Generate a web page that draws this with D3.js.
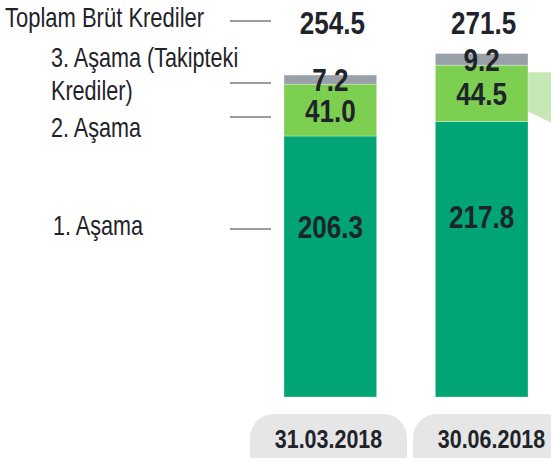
<!DOCTYPE html>
<html>
<head>
<meta charset="utf-8">
<script src="https://cdn.jsdelivr.net/npm/d3@7"></script>
<style>
  body { margin: 0; background: #fff; }
  svg { display: block; font-family: "Liberation Sans", Arial, sans-serif; }
</style>
</head>
<body>
<div class="chart"></div>
<script>
// veriler
const dates = ["31.03.2018", "30.06.2018"];
const stage1 = [206.3, 217.8];
const stage2 = [41.0, 44.5];
const stage3 = [7.2, 9.2];
const totals = [254.5, 271.5];

// etiketler (sol taraf)
const legendLabels = [
    { lines: ["Toplam Brüt Krediler"], x: 5, y: 27, size: 28, lineY: 21 },
    { lines: ["3. Aşama (Takipteki", "Krediler)"], x: 51, y: 67, size: 27.5, lineY: 83 },
    { lines: ["2. Aşama"], x: 51, y: 137, size: 27.5, lineY: 117 },
    { lines: ["1. Aşama"], x: 53, y: 235, size: 27.5, lineY: 229 }
];

const colors = { s1: "#00a475", s2: "#7dcf52", s3: "#9aa0a7", link: "#c6e8b6", pill: "#e6e6e6", text: "#1f232a" };

const W = 551, H = 458;

const svg = d3.select(".chart")
    .append("svg")
    .attr("width", W)
    .attr("height", H);

// scale
const x = d3.scaleBand()
    .domain(dates)
    .range([284, 528])
    .paddingInner(0.388)
    .paddingOuter(0);

const y = d3.scaleLinear()
    .domain([0, 300])
    .range([397, 17.5]);

// pill scale (tarih kutuları biraz sağa kayık)
const xp = d3.scaleBand()
    .domain(dates)
    .range([250, 570])
    .paddingInner(6 / 163)
    .paddingOuter(0);

// stack
const rows = dates.map((d, i) => ({ date: d, s1: stage1[i], s2: stage2[i], s3: stage3[i] }));
const stack = d3.stack().keys(["s1", "s2", "s3"])(rows);

// bağlantı şekli (2. barın sağında)
const last = dates.length - 1;
const x2 = x(dates[last]) + x.bandwidth();
const yTop = y(stage1[last] + stage2[last]) + 7;
const yBot = y(stage1[last]) - 10;
svg.append("path")
    .attr("fill", colors.link)
    .attr("d", `M${x2},${yTop} L${x2 + 60},${yTop} L${x2 + 60},${yBot + 29} L${x2},${yBot} Z`);

// barlar
svg.append("g")
    .selectAll("g")
    .data(stack)
    .join("g")
    .attr("fill", d => colors[d.key])
    .selectAll("rect")
    .data(d => d)
    .join("rect")
    .attr("x", d => x(d.data.date))
    .attr("y", d => y(d[1]))
    .attr("width", x.bandwidth())
    .attr("height", d => y(d[0]) - y(d[1]))
    .attr("stroke", "#fff")
    .attr("stroke-opacity", 0.3)
    .attr("stroke-width", 1);

// bar içi değerler
const cx = d => x(d) + x.bandwidth() / 2;
const valueText = (val, px, py) => svg.append("text")
    .attr("class", "narrow")
    .attr("data-f", 0.84)
    .attr("x", px)
    .attr("y", py)
    .attr("text-anchor", "middle")
    .attr("dominant-baseline", "central")
    .attr("font-size", 31)
    .attr("font-weight", "bold")
    .attr("fill", colors.text)
    .text(val.toFixed(1));

dates.forEach((d, i) => {
    const s1Top = y(stage1[i]);
    valueText(stage1[i], cx(d), s1Top + (y(0) - s1Top) * 0.35);
    valueText(stage2[i], cx(d), (y(stage1[i]) + y(stage1[i] + stage2[i])) / 2 + 1);
    valueText(stage3[i], cx(d), (y(stage1[i] + stage2[i]) + y(totals[i])) / 2 + 1);
    // toplam
    svg.append("text")
        .attr("class", "narrow")
        .attr("data-f", 0.84)
        .attr("x", cx(d) + 2)
        .attr("y", 34)
        .attr("text-anchor", "middle")
        .attr("font-size", 31)
        .attr("font-weight", "bold")
        .attr("fill", colors.text)
        .text(totals[i].toFixed(1));
});

// sol etiketler ve çizgiler
legendLabels.forEach(l => {
    const t = svg.append("text")
        .attr("x", l.x)
        .attr("y", l.y)
        .attr("font-size", l.size)
        .attr("fill", colors.text);
    l.lines.forEach((s, j) => {
        t.append("tspan")
            .attr("class", "narrow")
            .attr("data-f", 0.785)
            .attr("x", l.x)
            .attr("dy", j === 0 ? 0 : 33)
            .text(s);
    });
    svg.append("line")
        .attr("x1", 230).attr("x2", 271)
        .attr("y1", l.lineY).attr("y2", l.lineY)
        .attr("stroke", "#7a7a7a")
        .attr("stroke-width", 1.3);
});

// tarih kutuları
const pills = svg.append("g")
    .selectAll("g")
    .data(dates)
    .join("g");

pills.append("rect")
    .attr("x", d => xp(d))
    .attr("y", 414)
    .attr("width", xp.bandwidth())
    .attr("height", 70)
    .attr("rx", 24)
    .attr("fill", colors.pill);

pills.append("text")
    .attr("class", "narrow")
    .attr("data-f", 0.81)
    .attr("x", d => xp(d) + xp.bandwidth() / 2)
    .attr("y", 448)
    .attr("text-anchor", "middle")
    .attr("font-size", 26.5)
    .attr("font-weight", "bold")
    .attr("fill", colors.text)
    .text(d => d);

// Arial Narrow yok: yazıları yatayda sıkıştırıyorum
svg.selectAll(".narrow").each(function () {
    const f = +this.getAttribute("data-f");
    d3.select(this)
        .attr("textLength", this.getComputedTextLength() * f)
        .attr("lengthAdjust", "spacingAndGlyphs");
});
</script>
</body>
</html>
